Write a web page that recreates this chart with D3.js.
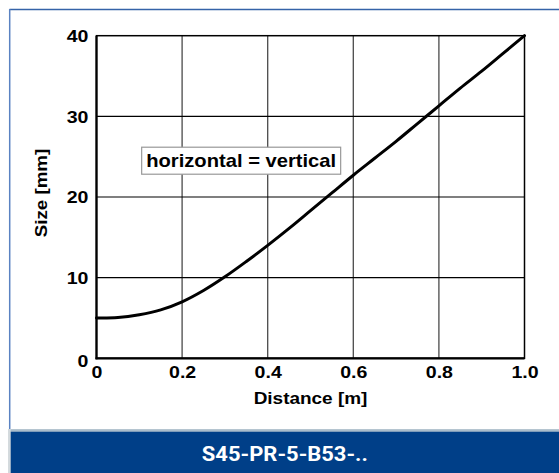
<!DOCTYPE html>
<html>
<head>
<meta charset="utf-8">
<script src="https://cdn.jsdelivr.net/npm/d3@7"></script>
<style>
  html, body { margin: 0; padding: 0; background: #fff; }
  svg { display: block; }
  text { font-family: "Liberation Sans", Arial, sans-serif; font-weight: bold; fill: #000; }
</style>
</head>
<body>
<svg id="chart" width="559" height="473"></svg>
<script>
// ---- data ----
const distance = [0, 0.05, 0.1, 0.15, 0.2, 0.25, 0.3, 0.35, 0.4, 0.45, 0.5, 0.55, 0.6, 0.65, 0.7, 0.75, 0.8, 0.85, 0.9, 0.95, 1.0];
const sizeMm   = [5.0, 5.05, 5.4, 6.0, 7.0, 8.4, 10.1, 12.0, 14.0, 16.1, 18.3, 20.5, 22.7, 24.8, 26.9, 29.1, 31.3, 33.5, 35.6, 37.8, 40.0];
const xTicks = [0, 0.2, 0.4, 0.6, 0.8, 1.0];
const xTickLabels = ["0", "0.2", "0.4", "0.6", "0.8", "1.0"];
const yTicks = [0, 10, 20, 30, 40];
const yTickLabels = ["0", "10", "20", "30", "40"];
const xTitle = "Distance [m]";
const yTitle = "Size [mm]";
const noteText = "horizontal = vertical";
const bannerText = "S45-PR-5-B53-..";

// ---- layout ----
const W = 559, H = 473;
const plot = { left: 96.5, top: 35.7, right: 524.5, bottom: 358.3 };
const SX = 1.2; // horizontal stretch of the original lettering

const svg = d3.select("#chart");

// frame
svg.append("line").attr("x1", 9.5).attr("x2", W).attr("y1", 9.5).attr("y2", 9.5)
  .attr("stroke", "#3563a8").attr("stroke-width", 1.5);
svg.append("line").attr("x1", 9.7).attr("x2", 9.7).attr("y1", 9).attr("y2", 430)
  .attr("stroke", "#5a82c2").attr("stroke-width", 1.5);

// banner
svg.append("rect").attr("x", 8).attr("y", 429).attr("width", W - 8).attr("height", H - 429).attr("fill", "#d4dadd");
svg.append("rect").attr("x", 10.7).attr("y", 429.3).attr("width", W - 10.7).attr("height", 2.4).attr("fill", "#a9bccb");
svg.append("rect").attr("x", 10.7).attr("y", 431.7).attr("width", W - 10.7).attr("height", H - 431.7).attr("fill", "#003f88");
svg.append("text").attr("x", (10.7 + W) / 2).attr("y", 461)
  .attr("text-anchor", "middle")
  .attr("textLength", 166).attr("lengthAdjust", "spacingAndGlyphs")
  .style("font-family", "Roboto, 'Liberation Sans', sans-serif")
  .style("font-weight", "700").style("font-size", "21px").style("fill", "#fff")
  .text(bannerText);

// scales
const x = d3.scaleLinear().domain([0, 1]).range([plot.left, plot.right]);
const y = d3.scaleLinear().domain([0, 40]).range([plot.bottom, plot.top]);

// grid
const g = svg.append("g");
g.selectAll(".vgrid").data(xTicks.slice(1, -1)).join("line")
  .attr("x1", d => x(d)).attr("x2", d => x(d))
  .attr("y1", plot.top).attr("y2", plot.bottom)
  .attr("stroke", "#4a4a4a").attr("stroke-width", 1.3);
g.selectAll(".hgrid").data(yTicks.slice(1, -1)).join("line")
  .attr("x1", plot.left).attr("x2", plot.right)
  .attr("y1", d => y(d)).attr("y2", d => y(d))
  .attr("stroke", "#000").attr("stroke-width", 1.1);

// plot border
g.append("rect").attr("x", plot.left).attr("y", plot.top)
  .attr("width", plot.right - plot.left).attr("height", plot.bottom - plot.top)
  .attr("fill", "none").attr("stroke", "#000").attr("stroke-width", 1.5);
g.append("line").attr("x1", plot.left).attr("x2", plot.left).attr("y1", plot.top).attr("y2", plot.bottom + 1)
  .attr("stroke", "#000").attr("stroke-width", 2.2);
g.append("line").attr("x1", plot.left - 1).attr("x2", plot.right).attr("y1", plot.bottom).attr("y2", plot.bottom)
  .attr("stroke", "#000").attr("stroke-width", 2.2);

// axes (labels only)
const xAxis = d3.axisBottom(x).tickValues(xTicks).tickFormat((d, i) => xTickLabels[i]).tickSize(0).tickPadding(0);
const yAxis = d3.axisLeft(y).tickValues(yTicks).tickFormat((d, i) => yTickLabels[i]).tickSize(0).tickPadding(0);

const gx = svg.append("g").attr("transform", `translate(0,${plot.bottom})`).call(xAxis);
gx.select(".domain").remove();
gx.selectAll("text")
  .attr("y", null).attr("dy", null)
  .attr("transform", `translate(0,19.7) scale(${SX},1)`)
  .style("font-family", "'Liberation Sans', Arial, sans-serif")
  .style("font-weight", "bold").style("font-size", "16.3px").style("fill", "#000");

const gy = svg.append("g").attr("transform", `translate(${plot.left},0)`).call(yAxis);
gy.select(".domain").remove();
gy.selectAll("text")
  .attr("x", null).attr("dy", null)
  .attr("transform", (d) => `translate(-8,${d === 0 ? 7.8 : 5.9}) scale(${SX},1)`)
  .style("font-family", "'Liberation Sans', Arial, sans-serif")
  .style("font-weight", "bold").style("font-size", "16.3px").style("fill", "#000");

// axis titles
svg.append("text")
  .attr("transform", `translate(${(plot.left + plot.right) / 2},404) scale(${SX},1)`)
  .attr("text-anchor", "middle").style("font-size", "15.8px").text(xTitle);
svg.append("text")
  .attr("transform", `translate(46.8,193) rotate(-90) scale(1.17,1)`)
  .attr("text-anchor", "middle").style("font-size", "16px").text(yTitle);

// curve
const line = d3.line().x((d, i) => x(distance[i])).y(d => y(d)).curve(d3.curveCatmullRom.alpha(0.5));
svg.append("path").datum(sizeMm).attr("d", line)
  .attr("fill", "none").attr("stroke", "#000").attr("stroke-width", 3).attr("stroke-linecap", "round");

// note box
const noteX = x(0.338), noteY = y(24.5);
svg.append("rect").attr("x", noteX - 99.5).attr("y", noteY - 13.5).attr("width", 199).attr("height", 27)
  .attr("fill", "#fff").attr("stroke", "#999").attr("stroke-width", 1.2);
svg.append("text")
  .attr("transform", `translate(${noteX},${noteY + 6.5}) scale(1.12,1)`)
  .attr("text-anchor", "middle").style("font-size", "18px").text(noteText);
</script>
</body>
</html>
